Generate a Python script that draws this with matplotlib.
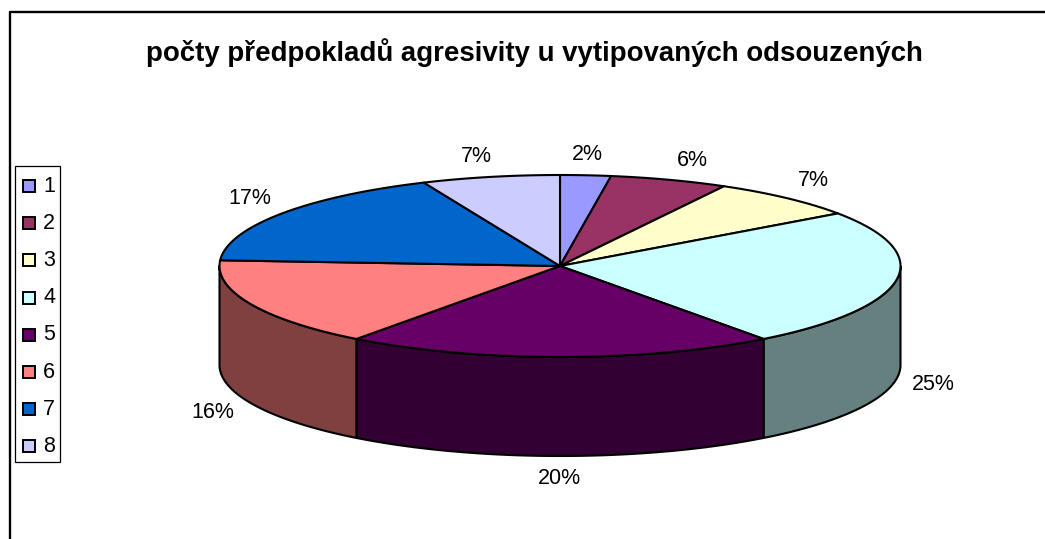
import matplotlib
matplotlib.use("Agg")
import matplotlib.pyplot as plt
import numpy as np

plt.rcParams["font.family"] = ["Liberation Sans", "DejaVu Sans"]

title = "počty předpokladů agresivity u vytipovaných odsouzených"
categories = ["1", "2", "3", "4", "5", "6", "7", "8"]
shares = [2.4, 5.6, 7.2, 24.6, 20.4, 15.8, 17.45, 6.55]
top_colors = ["#9999FF", "#993366", "#FFFFCC", "#CCFFFF", "#660066", "#FF8080", "#0066CC", "#CCCCFF"]
wall_colors = ["#4D4D80", "#4D1A33", "#808066", "#668080", "#330033", "#804040", "#003366", "#666680"]

# where the pie and its labels sit, in pixels of the picture
cx, cy = 560, 266
rx, ry = 340.5, 91
depth = 99
label_pos = [(587, 154), (692, 160), (813, 180), (933, 385), (559, 479), (213, 413), (250, 199), (476, 156)]

fig = plt.figure(figsize=(10.45, 5.39), dpi=100)
ax = fig.add_axes([0, 0, 1, 1])
ax.set_xlim(0, 1045)
ax.set_ylim(539, 0)
ax.axis("off")

# outer frame, only left and top edges are inside the picture
ax.plot([9.5, 9.5, 1045], [539, 11.5, 11.5], color="black", lw=1.7, solid_capstyle="butt")


def rim(t):
    return cx + rx * np.sin(t), cy - ry * np.cos(t)


edges = np.cumsum([0] + shares) / sum(shares) * 2 * np.pi

# walls, only the front half of the pie is visible
for i in range(len(shares)):
    start = max(edges[i], np.pi / 2)
    end = min(edges[i + 1], 3 * np.pi / 2)
    if start >= end:
        continue
    t = np.linspace(start, end, 80)
    x, y = rim(t)
    wx = np.concatenate([x, x[::-1]])
    wy = np.concatenate([y, y[::-1] + depth])
    ax.fill(wx, wy, facecolor=wall_colors[i], edgecolor="black", lw=1.5, joinstyle="round")

# top of the pie
for i in range(len(shares)):
    t = np.linspace(edges[i], edges[i + 1], 80)
    x, y = rim(t)
    ax.fill(np.r_[cx, x], np.r_[cy, y], facecolor=top_colors[i], edgecolor="black", lw=1.5, joinstyle="round")

for v, pos in zip(shares, label_pos):
    ax.text(pos[0], pos[1], f"{round(v)}%", fontsize=15.5, ha="center", va="center", color="black")

ax.text(534, 53, title, fontsize=19.9, fontweight="bold", ha="center", va="center", color="black")

# legend box
ax.fill([14.5, 59.5, 59.5, 14.5], [166, 166, 462, 462], facecolor="white", edgecolor="black", lw=0.9)
for i, name in enumerate(categories):
    ly = 186 + i * 37.2
    ax.fill([23, 35, 35, 23], [ly - 6, ly - 6, ly + 6, ly + 6], facecolor=top_colors[i], edgecolor="black", lw=1.4)
    ax.text(43, ly, name, fontsize=15.5, ha="left", va="center", color="black")

fig.savefig("out.png", dpi=100)
